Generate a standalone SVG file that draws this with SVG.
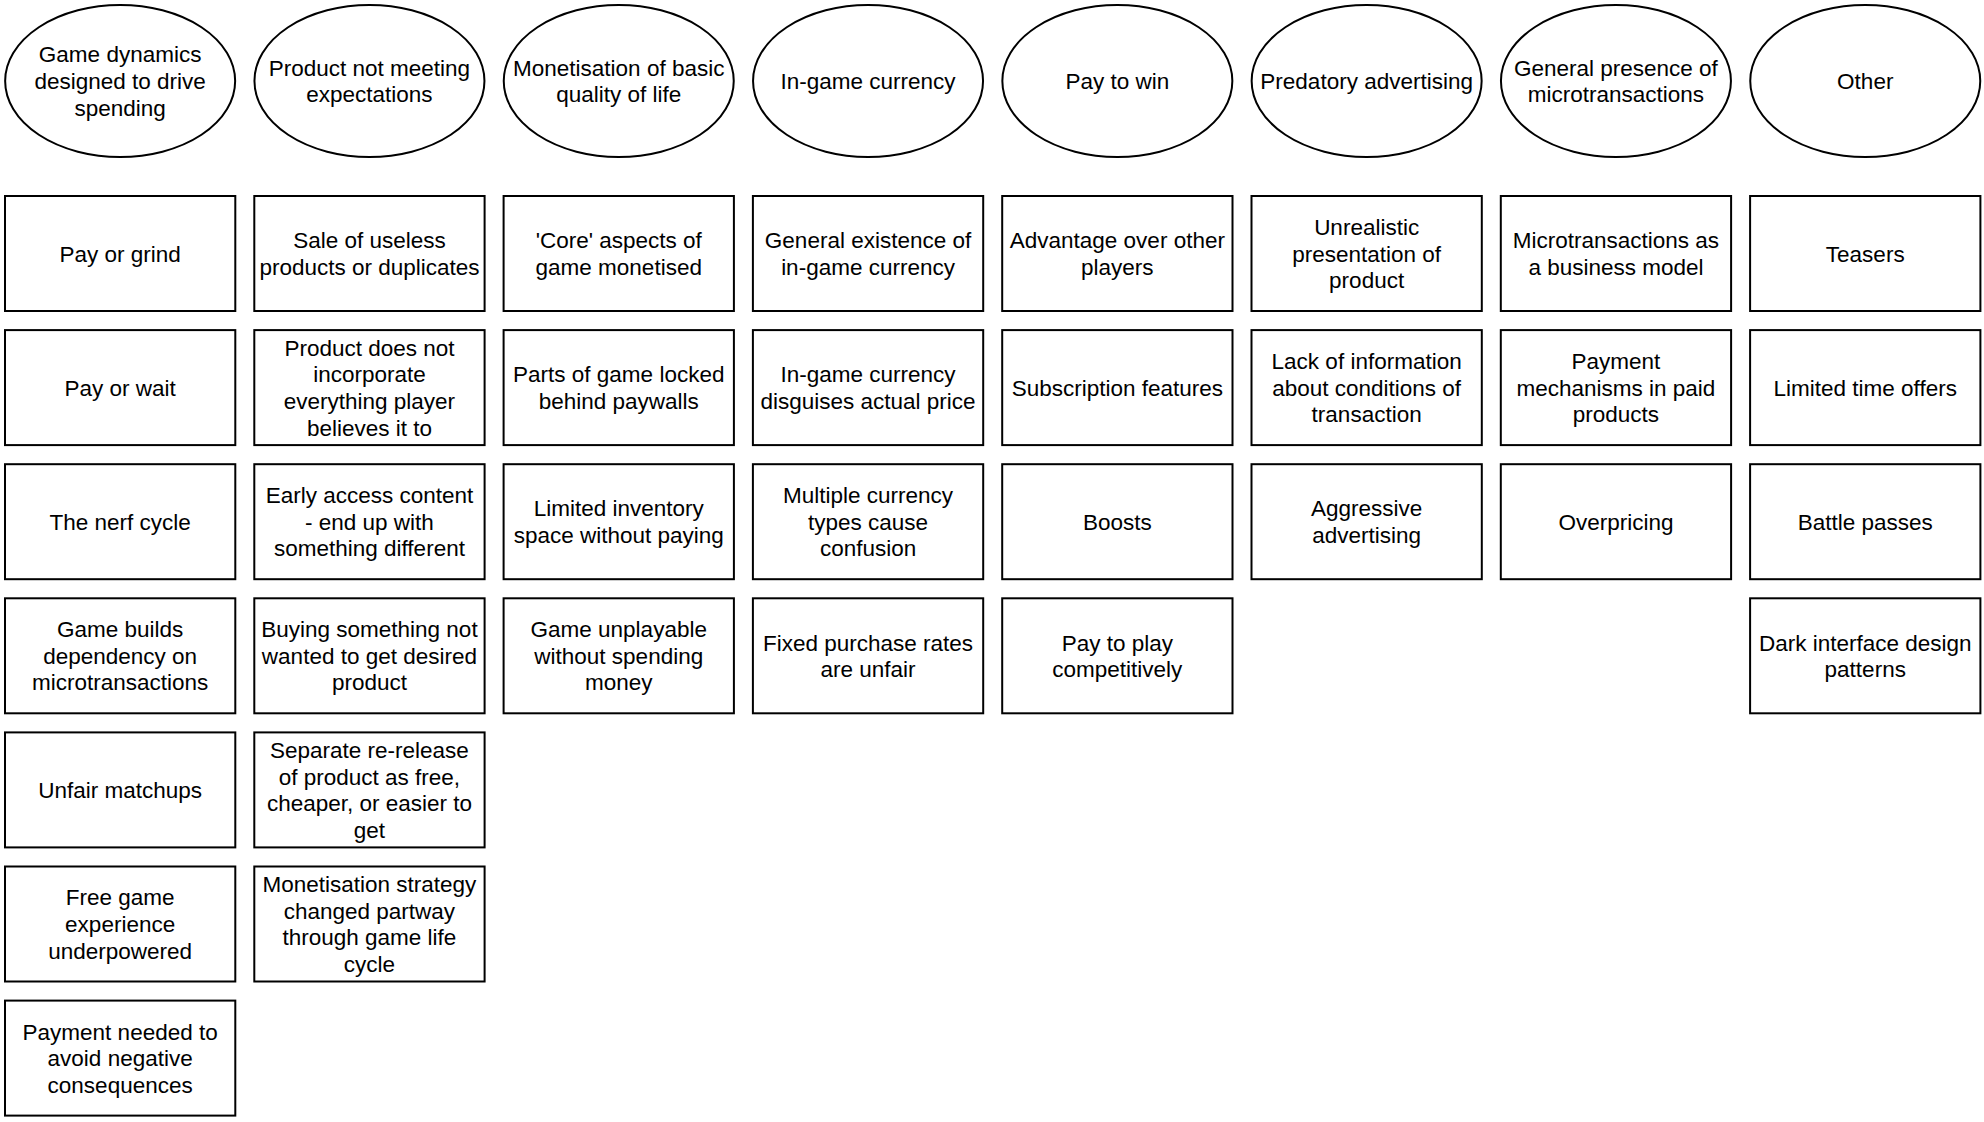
<svg xmlns="http://www.w3.org/2000/svg" width="1984" height="1122" viewBox="0 0 1984 1122">
<style>
rect,ellipse{fill:#fff;stroke:#000;stroke-width:2}
text{font-family:"Liberation Sans",Arial,sans-serif;font-size:22.5px;text-anchor:middle;fill:#000}
</style>
<rect x="0" y="0" width="1984" height="1122" style="stroke:none"/>
<g id="h1"><ellipse cx="120.15" cy="81" rx="115" ry="76"/><text y="81"><tspan x="120.15" dy="-18.6">Game dynamics</tspan><tspan x="120.15" dy="26.6">designed to drive</tspan><tspan x="120.15" dy="26.6">spending</tspan></text></g>
<g id="h2"><ellipse cx="369.45" cy="81" rx="115" ry="76"/><text y="81"><tspan x="369.45" dy="-5.3">Product not meeting</tspan><tspan x="369.45" dy="26.6">expectations</tspan></text></g>
<g id="h3"><ellipse cx="618.75" cy="81" rx="115" ry="76"/><text y="81"><tspan x="618.75" dy="-5.3">Monetisation of basic</tspan><tspan x="618.75" dy="26.6">quality of life</tspan></text></g>
<g id="h4"><ellipse cx="868.05" cy="81" rx="115" ry="76"/><text y="81"><tspan x="868.05" dy="8">In-game currency</tspan></text></g>
<g id="h5"><ellipse cx="1117.35" cy="81" rx="115" ry="76"/><text y="81"><tspan x="1117.35" dy="8">Pay to win</tspan></text></g>
<g id="h6"><ellipse cx="1366.65" cy="81" rx="115" ry="76"/><text y="81"><tspan x="1366.65" dy="8">Predatory advertising</tspan></text></g>
<g id="h7"><ellipse cx="1615.95" cy="81" rx="115" ry="76"/><text y="81"><tspan x="1615.95" dy="-5.3">General presence of</tspan><tspan x="1615.95" dy="26.6">microtransactions</tspan></text></g>
<g id="h8"><ellipse cx="1865.25" cy="81" rx="115" ry="76"/><text y="81"><tspan x="1865.25" dy="8">Other</tspan></text></g>

<!-- column 1 -->
<g id="c1r1"><rect x="5" y="196" width="230.3" height="115"/><text y="253.5"><tspan x="120.15" dy="8">Pay or grind</tspan></text></g>
<g id="c1r2"><rect x="5" y="330.1" width="230.3" height="115"/><text y="387.6"><tspan x="120.15" dy="8">Pay or wait</tspan></text></g>
<g id="c1r3"><rect x="5" y="464.2" width="230.3" height="115"/><text y="521.7"><tspan x="120.15" dy="8">The nerf cycle</tspan></text></g>
<g id="c1r4"><rect x="5" y="598.3" width="230.3" height="115"/><text y="655.8"><tspan x="120.15" dy="-18.6">Game builds</tspan><tspan x="120.15" dy="26.6">dependency on</tspan><tspan x="120.15" dy="26.6">microtransactions</tspan></text></g>
<g id="c1r5"><rect x="5" y="732.4" width="230.3" height="115"/><text y="789.9"><tspan x="120.15" dy="8">Unfair matchups</tspan></text></g>
<g id="c1r6"><rect x="5" y="866.5" width="230.3" height="115"/><text y="924"><tspan x="120.15" dy="-18.6">Free game</tspan><tspan x="120.15" dy="26.6">experience</tspan><tspan x="120.15" dy="26.6">underpowered</tspan></text></g>
<g id="c1r7"><rect x="5" y="1000.6" width="230.3" height="115"/><text y="1058.1"><tspan x="120.15" dy="-18.6">Payment needed to</tspan><tspan x="120.15" dy="26.6">avoid negative</tspan><tspan x="120.15" dy="26.6">consequences</tspan></text></g>

<!-- column 2 -->
<g id="c2r1"><rect x="254.3" y="196" width="230.3" height="115"/><text y="253.5"><tspan x="369.45" dy="-5.3">Sale of useless</tspan><tspan x="369.45" dy="26.6">products or duplicates</tspan></text></g>
<g id="c2r2"><rect x="254.3" y="330.1" width="230.3" height="115"/><text y="387.6"><tspan x="369.45" dy="-31.9">Product does not</tspan><tspan x="369.45" dy="26.6">incorporate</tspan><tspan x="369.45" dy="26.6">everything player</tspan><tspan x="369.45" dy="26.6">believes it to</tspan></text></g>
<g id="c2r3"><rect x="254.3" y="464.2" width="230.3" height="115"/><text y="521.7"><tspan x="369.45" dy="-18.6">Early access content</tspan><tspan x="369.45" dy="26.6">- end up with</tspan><tspan x="369.45" dy="26.6">something different</tspan></text></g>
<g id="c2r4"><rect x="254.3" y="598.3" width="230.3" height="115"/><text y="655.8"><tspan x="369.45" dy="-18.6">Buying something not</tspan><tspan x="369.45" dy="26.6">wanted to get desired</tspan><tspan x="369.45" dy="26.6">product</tspan></text></g>
<g id="c2r5"><rect x="254.3" y="732.4" width="230.3" height="115"/><text y="789.9"><tspan x="369.45" dy="-31.9">Separate re-release</tspan><tspan x="369.45" dy="26.6">of product as free,</tspan><tspan x="369.45" dy="26.6">cheaper, or easier to</tspan><tspan x="369.45" dy="26.6">get</tspan></text></g>
<g id="c2r6"><rect x="254.3" y="866.5" width="230.3" height="115"/><text y="924"><tspan x="369.45" dy="-31.9">Monetisation strategy</tspan><tspan x="369.45" dy="26.6">changed partway</tspan><tspan x="369.45" dy="26.6">through game life</tspan><tspan x="369.45" dy="26.6">cycle</tspan></text></g>

<!-- column 3 -->
<g id="c3r1"><rect x="503.6" y="196" width="230.3" height="115"/><text y="253.5"><tspan x="618.75" dy="-5.3">'Core' aspects of</tspan><tspan x="618.75" dy="26.6">game monetised</tspan></text></g>
<g id="c3r2"><rect x="503.6" y="330.1" width="230.3" height="115"/><text y="387.6"><tspan x="618.75" dy="-5.3">Parts of game locked</tspan><tspan x="618.75" dy="26.6">behind paywalls</tspan></text></g>
<g id="c3r3"><rect x="503.6" y="464.2" width="230.3" height="115"/><text y="521.7"><tspan x="618.75" dy="-5.3">Limited inventory</tspan><tspan x="618.75" dy="26.6">space without paying</tspan></text></g>
<g id="c3r4"><rect x="503.6" y="598.3" width="230.3" height="115"/><text y="655.8"><tspan x="618.75" dy="-18.6">Game unplayable</tspan><tspan x="618.75" dy="26.6">without spending</tspan><tspan x="618.75" dy="26.6">money</tspan></text></g>

<!-- column 4 -->
<g id="c4r1"><rect x="752.9" y="196" width="230.3" height="115"/><text y="253.5"><tspan x="868.05" dy="-5.3">General existence of</tspan><tspan x="868.05" dy="26.6">in-game currency</tspan></text></g>
<g id="c4r2"><rect x="752.9" y="330.1" width="230.3" height="115"/><text y="387.6"><tspan x="868.05" dy="-5.3">In-game currency</tspan><tspan x="868.05" dy="26.6">disguises actual price</tspan></text></g>
<g id="c4r3"><rect x="752.9" y="464.2" width="230.3" height="115"/><text y="521.7"><tspan x="868.05" dy="-18.6">Multiple currency</tspan><tspan x="868.05" dy="26.6">types cause</tspan><tspan x="868.05" dy="26.6">confusion</tspan></text></g>
<g id="c4r4"><rect x="752.9" y="598.3" width="230.3" height="115"/><text y="655.8"><tspan x="868.05" dy="-5.3">Fixed purchase rates</tspan><tspan x="868.05" dy="26.6">are unfair</tspan></text></g>

<!-- column 5 -->
<g id="c5r1"><rect x="1002.2" y="196" width="230.3" height="115"/><text y="253.5"><tspan x="1117.35" dy="-5.3">Advantage over other</tspan><tspan x="1117.35" dy="26.6">players</tspan></text></g>
<g id="c5r2"><rect x="1002.2" y="330.1" width="230.3" height="115"/><text y="387.6"><tspan x="1117.35" dy="8">Subscription features</tspan></text></g>
<g id="c5r3"><rect x="1002.2" y="464.2" width="230.3" height="115"/><text y="521.7"><tspan x="1117.35" dy="8">Boosts</tspan></text></g>
<g id="c5r4"><rect x="1002.2" y="598.3" width="230.3" height="115"/><text y="655.8"><tspan x="1117.35" dy="-5.3">Pay to play</tspan><tspan x="1117.35" dy="26.6">competitively</tspan></text></g>

<!-- column 6 -->
<g id="c6r1"><rect x="1251.5" y="196" width="230.3" height="115"/><text y="253.5"><tspan x="1366.65" dy="-18.6">Unrealistic</tspan><tspan x="1366.65" dy="26.6">presentation of</tspan><tspan x="1366.65" dy="26.6">product</tspan></text></g>
<g id="c6r2"><rect x="1251.5" y="330.1" width="230.3" height="115"/><text y="387.6"><tspan x="1366.65" dy="-18.6">Lack of information</tspan><tspan x="1366.65" dy="26.6">about conditions of</tspan><tspan x="1366.65" dy="26.6">transaction</tspan></text></g>
<g id="c6r3"><rect x="1251.5" y="464.2" width="230.3" height="115"/><text y="521.7"><tspan x="1366.65" dy="-5.3">Aggressive</tspan><tspan x="1366.65" dy="26.6">advertising</tspan></text></g>

<!-- column 7 -->
<g id="c7r1"><rect x="1500.8" y="196" width="230.3" height="115"/><text y="253.5"><tspan x="1615.95" dy="-5.3">Microtransactions as</tspan><tspan x="1615.95" dy="26.6">a business model</tspan></text></g>
<g id="c7r2"><rect x="1500.8" y="330.1" width="230.3" height="115"/><text y="387.6"><tspan x="1615.95" dy="-18.6">Payment</tspan><tspan x="1615.95" dy="26.6">mechanisms in paid</tspan><tspan x="1615.95" dy="26.6">products</tspan></text></g>
<g id="c7r3"><rect x="1500.8" y="464.2" width="230.3" height="115"/><text y="521.7"><tspan x="1615.95" dy="8">Overpricing</tspan></text></g>

<!-- column 8 -->
<g id="c8r1"><rect x="1750.1" y="196" width="230.3" height="115"/><text y="253.5"><tspan x="1865.25" dy="8">Teasers</tspan></text></g>
<g id="c8r2"><rect x="1750.1" y="330.1" width="230.3" height="115"/><text y="387.6"><tspan x="1865.25" dy="8">Limited time offers</tspan></text></g>
<g id="c8r3"><rect x="1750.1" y="464.2" width="230.3" height="115"/><text y="521.7"><tspan x="1865.25" dy="8">Battle passes</tspan></text></g>
<g id="c8r4"><rect x="1750.1" y="598.3" width="230.3" height="115"/><text y="655.8"><tspan x="1865.25" dy="-5.3">Dark interface design</tspan><tspan x="1865.25" dy="26.6">patterns</tspan></text></g>

<g id="connectors"></g>
</svg>
